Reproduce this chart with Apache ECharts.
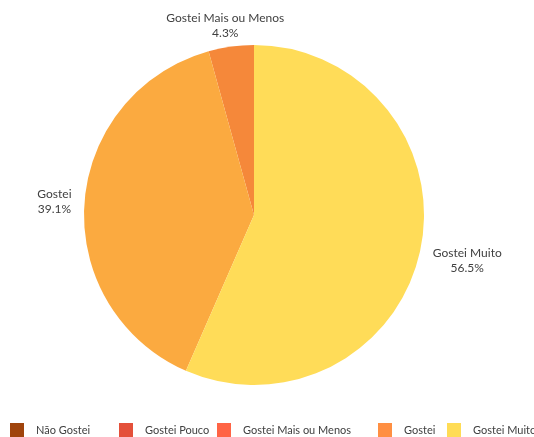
<!DOCTYPE html>
<html>
<head>
<meta charset="utf-8">
<script src="https://cdn.jsdelivr.net/npm/echarts@6/dist/echarts.min.js"></script>
<style>
  html, body { margin: 0; padding: 0; background: #ffffff; }
  #chart { width: 534px; height: 437px; }
</style>
</head>
<body>
<div id="chart"></div>
<script>
// Survey answers, in scale order
const categories = ['Não Gostei', 'Gostei Pouco', 'Gostei Mais ou Menos', 'Gostei', 'Gostei Muito'];
// Share of answers (%)
const shares = [0, 0, 4.3, 39.1, 56.5];
// Slice fills and legend swatch fills
const sliceColors = ['#A0440C', '#E4503A', '#F5883A', '#FBAA40', '#FFDC58'];
const legendColors = ['#A0440C', '#E4503A', '#FF6445', '#FF8F42', '#FFDC55'];
// Left edge of each legend entry
const legendLefts = [10, 119, 217, 378, 447];

const chart = echarts.init(document.getElementById('chart'), null, { renderer: 'canvas' });

const font = 'Lato, "Open Sans", sans-serif';

// One legend block per entry so each entry keeps its own slot
const legends = categories.map((name, i) => ({
  left: legendLefts[i],
  top: 423,
  padding: 0,
  width: 200,
  itemWidth: 14,
  itemHeight: 14,
  icon: 'rect',
  selectedMode: false,
  textStyle: { fontFamily: font, fontSize: 11, color: '#404040', padding: [0, 0, 0, 7] },
  data: [{ name, itemStyle: { color: legendColors[i] } }]
}));

chart.setOption({
  animation: false,
  backgroundColor: '#ffffff',
  legend: legends,
  series: [{
    type: 'pie',
    center: [254, 215],
    radius: [0, 170],
    startAngle: 90,
    clockwise: false,
    avoidLabelOverlap: false,
    itemStyle: { borderWidth: 0 },
    label: {
      show: true,
      position: 'outside',
      formatter: p => p.value > 0 ? p.name + '\n' + p.value.toFixed(1) + '%' : '',
      fontFamily: font,
      fontSize: 12,
      lineHeight: 15,
      color: '#404040',
      align: 'center'
    },
    labelLine: { show: false, length: 6, length2: 0 },
    labelLayout: function (params) {
      if (params.dataIndex === 2) {
        return { align: 'center', dx: 0, dy: -15 };
      }
      if (params.dataIndex === 3) {
        return { align: 'center', dx: -19, dy: -1 };
      }
      if (params.dataIndex === 4) {
        return { align: 'center', dx: 36, dy: 10 };
      }
      return {};
    },
    emphasis: { disabled: true },
    data: categories.map((name, i) => ({
      name,
      value: shares[i],
      itemStyle: { color: sliceColors[i] },
      label: { show: shares[i] > 0 }
    }))
  }]
});
</script>
</body>
</html>
